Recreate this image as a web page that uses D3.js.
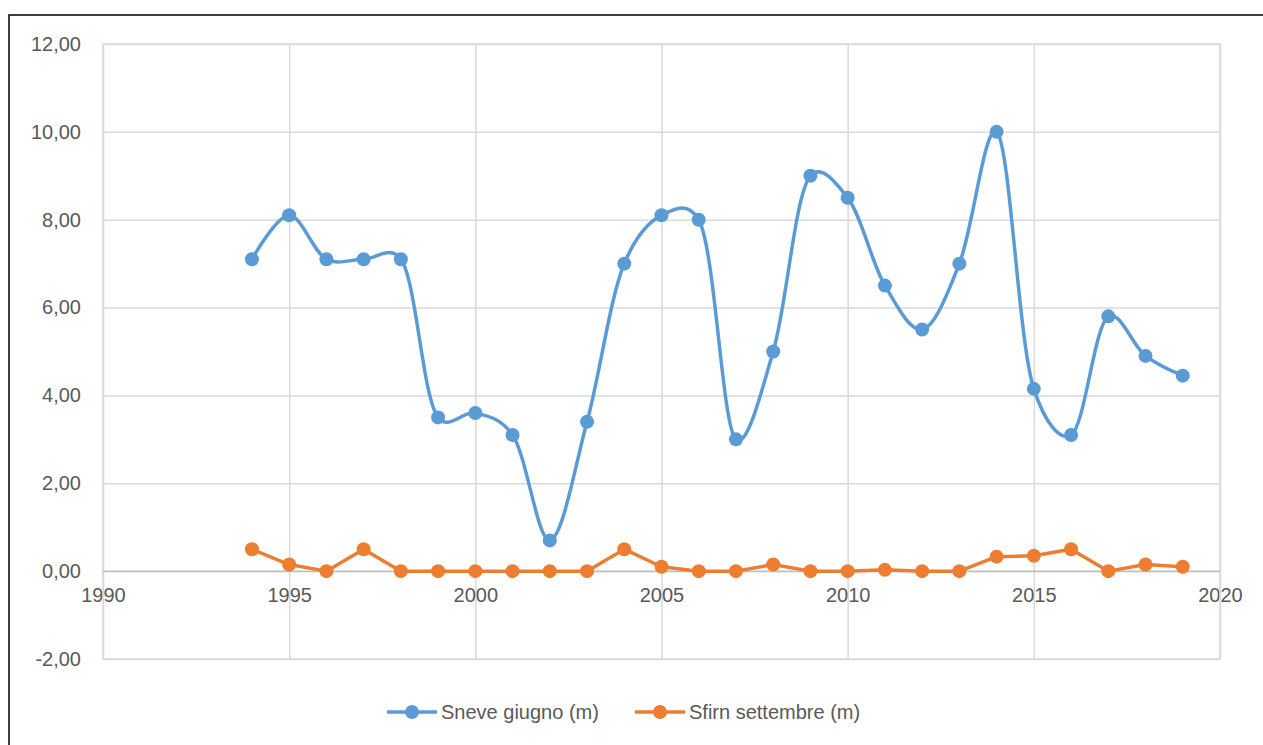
<!DOCTYPE html>
<html>
<head>
<meta charset="utf-8">
<script src="https://cdn.jsdelivr.net/npm/d3@7"></script>
<style>
  html, body { margin: 0; padding: 0; background: #fff; overflow: hidden; }
  text { font-family: "Liberation Sans", Arial, sans-serif; fill: #595959; }
</style>
</head>
<body>
<div id="chart"></div>
<script>
(function(){
    // data
    var years = [1994, 1995, 1996, 1997, 1998, 1999, 2000, 2001, 2002, 2003, 2004, 2005, 2006,
                 2007, 2008, 2009, 2010, 2011, 2012, 2013, 2014, 2015, 2016, 2017, 2018, 2019];
    var sneveGiugno = [7.1, 8.1, 7.1, 7.1, 7.1, 3.5, 3.6, 3.1, 0.7, 3.4, 7.0, 8.1, 8.0,
                       3.0, 5.0, 9.0, 8.5, 6.5, 5.5, 7.0, 10.0, 4.15, 3.1, 5.8, 4.9, 4.45];
    var sfirnSettembre = [0.5, 0.15, 0, 0.5, 0, 0, 0, 0, 0, 0, 0.5, 0.1, 0,
                          0, 0.15, 0, 0, 0.03, 0, 0, 0.33, 0.35, 0.5, 0, 0.15, 0.1];
    var seriesNames = ['Sneve giugno (m)', 'Sfirn settembre (m)'];
    var xTicks = [1990, 1995, 2000, 2005, 2010, 2015, 2020];
    var yTicks = [-2, 0, 2, 4, 6, 8, 10, 12];

    // layout
    var WIDTH  = 1263,
        HEIGHT = 745,
        PLOT_LEFT   = 103,
        PLOT_RIGHT  = 1220,
        PLOT_TOP    = 44,
        PLOT_BOTTOM = 659,
        BLUE   = '#5B9BD5',
        ORANGE = '#ED7D31',
        GRID   = '#D9D9D9',
        FONT_SIZE = 20;

    var svg = d3.select('#chart').append('svg')
        .attr('width', WIDTH)
        .attr('height', HEIGHT);

    // outer chart border (cropped at right/bottom)
    svg.append('rect')
        .attr('x', 9).attr('y', 15)
        .attr('width', 1400).attr('height', 900)
        .attr('fill', '#fff')
        .attr('stroke', '#000')
        .attr('stroke-width', 1.5);

    var x = d3.scaleLinear().domain([1990, 2020]).range([PLOT_LEFT, PLOT_RIGHT]);
    var y = d3.scaleLinear().domain([-2, 12]).range([PLOT_BOTTOM, PLOT_TOP]);

    // horizontal grid + value labels (comma decimals, plain hyphen)
    svg.append('g')
        .call(d3.axisLeft(y).tickValues(yTicks)
            .tickSize(-(PLOT_RIGHT - PLOT_LEFT))
            .tickPadding(22)
            .tickFormat(function(d){ return d.toFixed(2).replace('.', ','); }))
        .attr('transform', 'translate(' + PLOT_LEFT + ',0)')
        .call(function(g){
            g.select('.domain').remove();
            g.selectAll('line').attr('stroke', GRID).attr('stroke-width', 1.5);
            g.selectAll('text').attr('font-size', FONT_SIZE).attr('fill', '#595959')
                .style('font-family', '"Liberation Sans", Arial, sans-serif');
        });

    // vertical grid + year labels (labels sit just under the zero line)
    svg.append('g')
        .call(d3.axisBottom(x).tickValues(xTicks)
            .tickSize(-(PLOT_BOTTOM - PLOT_TOP))
            .tickFormat(d3.format('d')))
        .attr('transform', 'translate(0,' + PLOT_BOTTOM + ')')
        .call(function(g){
            g.select('.domain').remove();
            g.selectAll('line').attr('stroke', GRID).attr('stroke-width', 1.5);
            g.selectAll('text')
                .attr('y', y(0) - PLOT_BOTTOM + 24)
                .attr('dy', '0.35em')
                .attr('font-size', FONT_SIZE).attr('fill', '#595959')
                .style('font-family', '"Liberation Sans", Arial, sans-serif');
        });

    // plot area edges
    svg.append('rect')
        .attr('x', PLOT_LEFT).attr('y', PLOT_TOP)
        .attr('width', PLOT_RIGHT - PLOT_LEFT).attr('height', PLOT_BOTTOM - PLOT_TOP)
        .attr('fill', 'none').attr('stroke', GRID).attr('stroke-width', 1.5);

    // zero axis line
    svg.append('line')
        .attr('x1', PLOT_LEFT).attr('x2', PLOT_RIGHT)
        .attr('y1', y(0)).attr('y2', y(0))
        .attr('stroke', '#BFBFBF').attr('stroke-width', 1.5);

    function drawSeries(values, color, curve){
        var pts = years.map(function(yr, i){ return [yr, values[i]]; });
        var line = d3.line()
            .x(function(d){ return x(d[0]); })
            .y(function(d){ return y(d[1]); })
            .curve(curve);
        svg.append('path')
            .attr('d', line(pts))
            .attr('fill', 'none')
            .attr('stroke', color)
            .attr('stroke-width', 3.5)
            .attr('stroke-linejoin', 'round');
        svg.append('g').selectAll('circle')
            .data(pts).enter().append('circle')
            .attr('cx', function(d){ return x(d[0]); })
            .attr('cy', function(d){ return y(d[1]); })
            .attr('r', 7)
            .attr('fill', color);
    }

    drawSeries(sfirnSettembre, ORANGE, d3.curveLinear);
    // smoothed line, roughly like the spreadsheet's "smooth line" option
    drawSeries(sneveGiugno, BLUE, d3.curveCatmullRom.alpha(0.25));

    // legend
    var legend = [
        { name: seriesNames[0], color: BLUE,   x: 387 },
        { name: seriesNames[1], color: ORANGE, x: 635 }
    ];
    var lg = svg.append('g').selectAll('g')
        .data(legend).enter().append('g')
        .attr('transform', function(d){ return 'translate(' + d.x + ',712)'; });
    lg.append('line')
        .attr('x1', 0).attr('x2', 50)
        .attr('stroke', function(d){ return d.color; })
        .attr('stroke-width', 3.5);
    lg.append('circle')
        .attr('cx', 25).attr('r', 7)
        .attr('fill', function(d){ return d.color; });
    lg.append('text')
        .attr('x', 54).attr('dy', '0.35em')
        .attr('font-size', FONT_SIZE)
        .text(function(d){ return d.name; });
})();
</script>
</body>
</html>
